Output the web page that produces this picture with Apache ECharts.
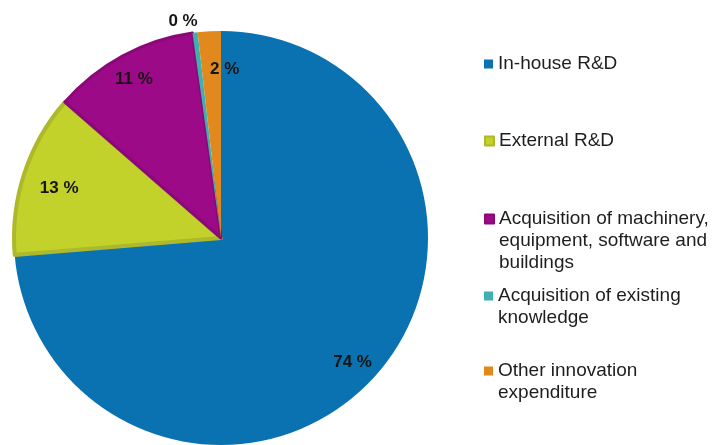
<!DOCTYPE html>
<html>
<head>
<meta charset="utf-8">
<script src="https://cdn.jsdelivr.net/npm/echarts@6/dist/echarts.min.js"></script>
<style>
html,body{margin:0;padding:0;background:#fff;}
#chart{width:715px;height:445px;}
</style>
</head>
<body>
<div id="chart"></div>
<script>
// categories and shares (%)
var categories = ['In-house R&D', 'External R&D', 'Acquisition of machinery, equipment, software and buildings', 'Acquisition of existing knowledge', 'Other innovation expenditure'];
var legendLabels = ['In-house R&D', 'External R&D', 'Acquisition of machinery,\nequipment, software and\nbuildings', 'Acquisition of existing\nknowledge', 'Other innovation\nexpenditure'];
var shares = [73.7, 12.7, 11.4, 0.4, 1.8];
var colors = ['#0a72b0', '#c3d12b', '#9c0a87', '#3fb0b0', '#e2891e'];
var legendCenters = [64, 141, 219, 296, 371];   // y of the first text line

var lineH = 22;
var myChart = echarts.init(document.getElementById('chart'));

var mainData = [], labelData = [];
for (var i = 0; i < categories.length; i++) {
    var item = {name: categories[i], value: shares[i], itemStyle: {color: colors[i]}};
    if (i === 1) item.itemStyle.borderColor = '#adb82a', item.itemStyle.borderWidth = 4;
    if (i === 2) item.itemStyle.borderColor = '#8a0877', item.itemStyle.borderWidth = 3;
    // the tiny slice gets its label outside
    if (shares[i] < 0.5) item.label = {show: true, position: 'outside', distanceToLabelLine: -4};
    mainData.push(item);
    labelData.push({name: categories[i], value: shares[i], label: {show: shares[i] >= 0.5}});
}

var legends = [];
for (var j = 0; j < categories.length; j++) {
    var nLines = legendLabels[j].split('\n').length;
    legends.push({
        orient: 'vertical',
        left: 484,
        // blank lines are put above the text so the square sits on the first line
        top: legendCenters[j] - (2 * nLines - 1) * lineH / 2,
        padding: 0,
        icon: 'rect',
        itemWidth: 9,
        itemHeight: 9,
        itemGap: 0,
        selectedMode: false,
        data: [categories[j]],
        formatter: function (name) {
            var txt = legendLabels[categories.indexOf(name)];
            var n = txt.split('\n').length;
            return new Array(n).join(' \n') + txt;
        },
        textStyle: {
            fontFamily: 'Liberation Sans, Arial, sans-serif',
            fontSize: 19,
            lineHeight: lineH,
            color: '#1e1e1e'
        }
    });
}

var labelFont = {
    fontFamily: 'Liberation Sans, Arial, sans-serif',
    fontSize: 17,
    fontWeight: 'bold',
    color: '#151515'
};

function pct(p) { return Math.round(p.value) + ' %'; }

var option = {
    animation: false,
    legend: legends,
    series: [
        {
            type: 'pie',
            center: [221, 238],
            radius: 207,
            startAngle: 90,
            clockwise: true,
            silent: true,
            label: Object.assign({show: false, formatter: pct}, labelFont),
            labelLine: {show: false, length: 11, length2: 0},
            data: mainData
        },
        {
            // transparent ring just for placing the labels near the rim
            type: 'pie',
            center: [221, 238],
            radius: [153, 207],
            startAngle: 90,
            clockwise: true,
            silent: true,
            itemStyle: {color: 'rgba(0,0,0,0)'},
            label: Object.assign({show: true, position: 'inside', formatter: pct}, labelFont),
            labelLine: {show: false},
            labelLayout: function (p) {
                if (p.dataIndex === 1) return {dx: 12, dy: 7};
                if (p.dataIndex === 4) return {dx: 14, dy: 14};
                if (p.dataIndex === 0) return {dx: -3};
                return {dy: 2};
            },
            data: labelData
        }
    ]
};
myChart.setOption(option);
</script>
</body>
</html>
